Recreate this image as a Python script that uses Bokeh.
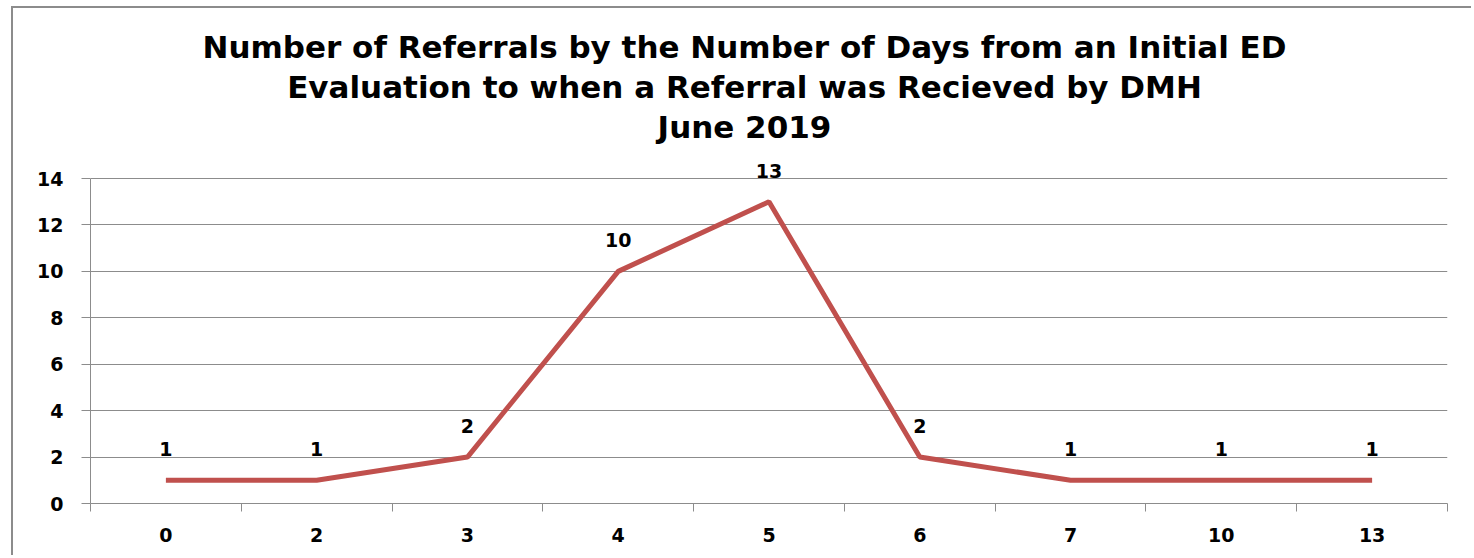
from bokeh.plotting import figure
from bokeh.models import ColumnDataSource, FixedTicker, LabelSet, Label, Range1d
from bokeh.core.properties import value
from bokeh.embed import file_html
from bokeh.resources import INLINE

days = ["0", "2", "3", "4", "5", "6", "7", "10", "13"]
referrals = [1, 1, 2, 10, 13, 2, 1, 1, 1]
y_ticks = [0, 2, 4, 6, 8, 10, 12, 14]
title_lines = [
    "Number of Referrals by the Number of Days from an Initial ED",
    "Evaluation to when a Referral was Recieved by DMH",
    "June 2019",
]

FONT = "DejaVu Sans"
GRID = "#8c8c8c"
LINE = "#C0504D"

n = len(days)
pos = [i + 0.5 for i in range(n)]
source = ColumnDataSource(dict(x=pos, y=referrals, label=[str(v) for v in referrals]))

# frame spans the full canvas height; y axis limited to 0..14 via bounds
FRAME_H = 495
AXIS_H = 325
y_top = max(y_ticks) * FRAME_H / AXIS_H

p = figure(
    width=1460, height=549,
    x_range=Range1d(0, n), y_range=Range1d(0, y_top),
    output_backend="svg", toolbar_location=None,
    min_border_left=77, min_border_right=26, min_border_top=0, min_border_bottom=54,
)
p.styles = {"border-left": "2px solid #8c8c8c", "border-top": "2px solid #8c8c8c",
            "margin-left": "11px", "margin-top": "6px"}
p.outline_line_color = None
p.background_fill_color = "white"
p.border_fill_color = "white"

p.line("x", "y", source=source, line_color=LINE, line_width=5)

labels = LabelSet(x="x", y="y", text="label", source=source, y_offset=31,
                  text_align="center", text_baseline="middle",
                  text_font=value(FONT), text_font_style="bold", text_font_size="19px",
                  text_color="black")
p.add_layout(labels)

# axes
xa = p.xaxis[0]
xa.ticker = FixedTicker(ticks=pos, minor_ticks=list(range(n + 1)))
xa.major_label_overrides = {pp: d for pp, d in zip(pos, days)}
xa.major_tick_out = 0
xa.major_tick_in = 0
xa.minor_tick_out = 8
xa.minor_tick_in = 0
xa.minor_tick_line_color = GRID
xa.axis_line_color = GRID
xa.major_label_standoff = 16
xa.major_label_text_font = FONT
xa.major_label_text_font_style = "bold"
xa.major_label_text_font_size = "19px"
xa.major_label_text_color = "black"

ya = p.yaxis[0]
ya.ticker = FixedTicker(ticks=y_ticks, minor_ticks=[])
ya.bounds = (min(y_ticks), max(y_ticks))
ya.major_tick_out = 9
ya.major_tick_in = 0
ya.major_tick_line_color = GRID
ya.axis_line_color = GRID
ya.major_label_standoff = 18
ya.major_label_text_font = FONT
ya.major_label_text_font_style = "bold"
ya.major_label_text_font_size = "19px"
ya.major_label_text_color = "black"

p.xgrid.visible = False
p.ygrid.ticker = ya.ticker
p.ygrid.grid_line_color = GRID
p.ygrid.grid_line_width = 1

for i, t in enumerate(title_lines):
    p.add_layout(Label(x=654, y=457 - 40 * i, x_units="screen", y_units="screen", text=t,
                       text_align="center", text_baseline="alphabetic",
                       text_font=FONT, text_font_style="bold", text_font_size="31px",
                       text_color="black"))

open("out.html", "w").write(file_html(p, INLINE))
